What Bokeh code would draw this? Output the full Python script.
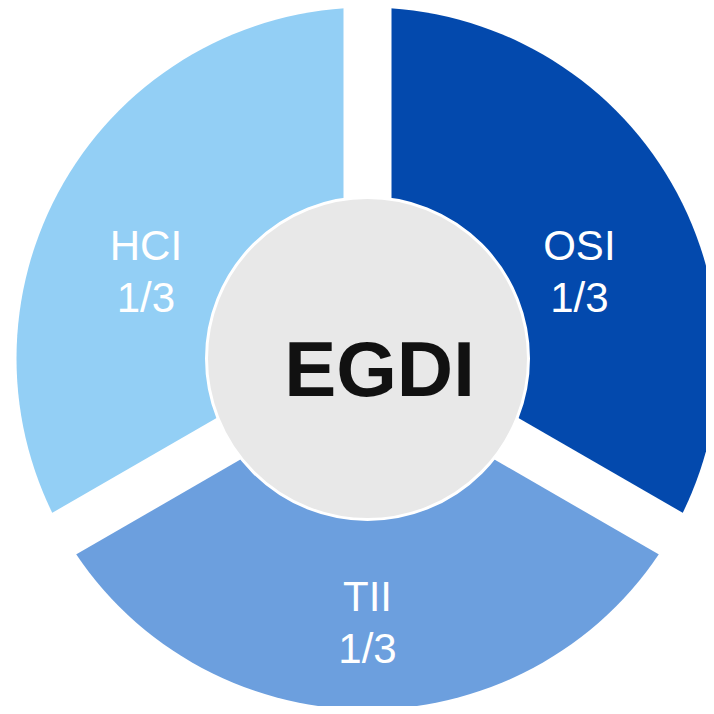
import numpy as np
from bokeh.plotting import figure
from bokeh.models import Range1d, ColumnDataSource
from bokeh.core.properties import value
from bokeh.embed import file_html
from bokeh.resources import INLINE

# ---- data ----
components = ["OSI", "TII", "HCI"]
weights = [1/3, 1/3, 1/3]
weight_labels = ["1/3", "1/3", "1/3"]
colors = ["#0349AD", "#6C9FDE", "#93CFF5"]
center_title = "EGDI"

# ---- layout (pixel-like data units) ----
W = H = 706
cx, cy = 367, 706 - 358
R_outer = 351
R_inner = 161
gap_px = 48
# label placement (polar, relative to centre)
label_r = [229, 264, 238]
label_deg = [22.3, 270.0, 158.6]

w = np.array(weights) / np.sum(weights)
ends = np.pi / 2 - 2 * np.pi * np.cumsum(w)
starts = np.concatenate([[np.pi / 2], ends[:-1]])

p = figure(width=W, height=H, output_backend="svg", toolbar_location=None,
           x_range=Range1d(0, W), y_range=Range1d(0, H),
           min_border=0)
p.axis.visible = False
p.grid.visible = False
p.outline_line_color = None
p.background_fill_color = "white"
p.border_fill_color = "white"

src = ColumnDataSource(dict(start=ends, end=starts, color=colors))
p.wedge(x=cx, y=cy, radius=R_outer, start_angle="start", end_angle="end",
        direction="anticlock", fill_color="color", line_color=None, source=src)

# white gaps along slice boundaries
b = starts
L = R_outer + 20
p.segment(x0=[cx] * 3, y0=[cy] * 3,
          x1=list(cx + L * np.cos(b)), y1=list(cy + L * np.sin(b)),
          line_color="white", line_width=gap_px, line_cap="butt")

# centre disc
p.circle(x=[cx], y=[cy], radius=R_inner, fill_color="#E8E8E8",
         line_color="white", line_width=3)
p.text(x=[cx], y=[cy], text=[center_title], x_offset=12, y_offset=10,
       text_align="center", text_baseline="middle",
       text_font=value("Liberation Sans"), text_font_style="bold",
       text_font_size="78px", text_color="#111111")

ang = np.deg2rad(label_deg)
lx = cx + np.array(label_r) * np.cos(ang)
ly = cy + np.array(label_r) * np.sin(ang)
p.text(x=list(lx), y=list(ly),
       text=[f"{c}\n{l}" for c, l in zip(components, weight_labels)],
       text_align="center", text_baseline="middle",
       text_font=value("Liberation Sans"), text_font_size="42px",
       text_line_height=1.1, text_color="white")

open("out.html", "w").write(file_html(p, INLINE))
